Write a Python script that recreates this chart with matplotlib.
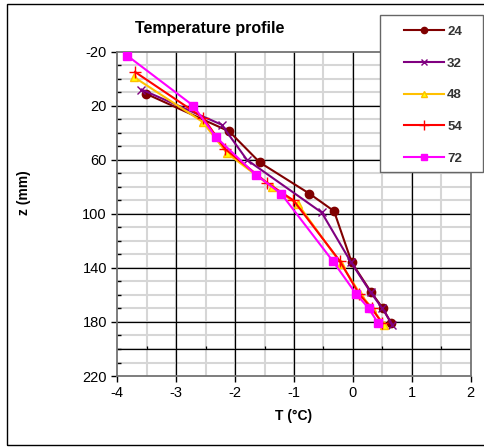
#!/usr/bin/env python3

'''Temperature profiles z(T) for several times.'''

import matplotlib
matplotlib.use('Agg')
import matplotlib.pyplot as plt
from matplotlib.patches import Rectangle
from matplotlib.lines import Line2D
import numpy as np

# profiles: temperature [degC] against depth [mm]
T_24=[-3.52,-2.10,-1.58,-0.74,-0.32,-0.02,0.31,0.51,0.65]
z_24=[11,39,62,85,98,136,158,170,181]
T_32=[-3.59,-2.23,-1.80,-0.53,-0.03,0.30,0.50,0.67]
z_32=[8,34,60,99,136,158,170,182]
T_48=[-3.71,-2.55,-2.14,-1.38,-0.93,-0.20,0.12,0.33,0.52]
z_48=[-1,32,55,80,93,137,159,170,182]
T_54=[-3.70,-2.54,-2.17,-1.46,-1.01,-0.22,0.10,0.32,0.50]
z_54=[-5,29,52,77,90,135,159,170,181]
T_72=[-3.83,-2.71,-2.33,-1.65,-1.22,-0.34,0.05,0.27,0.43]
z_72=[-17,20,43,71,85,135,159,170,181]
labels=['24','32','48','54','72']

x_ticks=[-4,-3,-2,-1,0,1,2]
z_ticks=[-20,20,60,100,140,180,220]

plt.rcParams.update({'font.size': 10, 'font.family': 'Liberation Sans', 'axes.unicode_minus': False})
fig=plt.figure(figsize=(4.84,4.47), dpi=100)
ax=plt.axes([0.2424, 0.1588, 0.7301, 0.7256])

# gridlines
for xv in np.arange(-3.5,2.0,0.5):
    ax.axvline(xv, color='0.84', linewidth=1.5, zorder=0)
for zv in np.arange(-10,220,10):
    ax.axhline(zv, color='0.84', linewidth=1.5, zorder=0)
for xv in [-3,-2,-1,0,1]:
    ax.axvline(xv, color='k', linewidth=0.9, zorder=1)
for zv in [20,60,100,140,180,200]:
    ax.axhline(zv, color='k', linewidth=0.9, zorder=1)
ax.vlines(np.arange(-3.5,2.1,1.0), 198, 200, color='k', linewidth=0.9, zorder=1)

series=[(T_24,z_24,'#800000','o','#800000','#800000',6),
        (T_32,z_32,'#800080','x','#800080','#800080',6),
        (T_48,z_48,'#FFC000','^','#FFFF00','#FFC000',6),
        (T_54,z_54,'#FF0000','+','#FF0000','#FF0000',9),
        (T_72,z_72,'#FF00FF','s','#FF00FF','#FF00FF',6)]
handles=[]
for (T,z,c,m,fc,ec,ms),lab in zip(series,labels):
    ax.plot(T,z,color=c,linewidth=1.5,marker=m,markersize=ms,
            markerfacecolor=fc,markeredgecolor=ec,markeredgewidth=1.0,zorder=3)
    handles.append(Line2D([],[],color=c,linewidth=1.5,marker=m,markersize=ms*0.75,
                          markerfacecolor=fc,markeredgecolor=ec,markeredgewidth=1.0))

ax.set_xlim(-4,2)
ax.set_ylim(220,-20)
ax.set_xticks(x_ticks)
ax.set_yticks(z_ticks)
ax.set_xticklabels([str(v) for v in x_ticks])
ax.set_yticks(np.arange(-20,221,10), minor=True)
ax.tick_params(axis='both', which='major', direction='out', length=4, width=1, colors='k', labelsize=10.5)
ax.tick_params(axis='y', which='minor', direction='in', length=3, width=1)
for s in ax.spines.values():
    s.set_color('0.45')
    s.set_linewidth(1.3)
ax.set_xlabel('T (°C)', fontweight='bold', fontsize=10, labelpad=6)
ax.set_ylabel('z (mm)', fontweight='bold', fontsize=10)
ax.yaxis.set_label_coords(-0.245, 0.565)

fig.text(0.434, 0.937, 'Temperature profile', ha='center', va='center', fontweight='bold', fontsize=11.5)

# legend box
fig.patches.append(Rectangle((380/484, 1-172/447), 103/484, 157/447, transform=fig.transFigure,
                             facecolor='white', edgecolor='0.4', linewidth=1.0, zorder=5))
leg=fig.legend(handles, labels, loc='upper left', bbox_to_anchor=(393/484, 1-15/447),
               frameon=False, prop={'size': 9.5, 'weight': 'bold'}, handlelength=3.1, handletextpad=0.2,
               labelspacing=1.48, borderpad=0.3)
for t in leg.get_texts():
    t.set_color('0.2')
leg.set_zorder(6)

# outer border
fig.patches.append(Rectangle((7/484, 2/447), 1.0, 441/447, transform=fig.transFigure,
                             facecolor='none', edgecolor='k', linewidth=1.0, zorder=0))

fig.savefig('out.png', dpi=100)
